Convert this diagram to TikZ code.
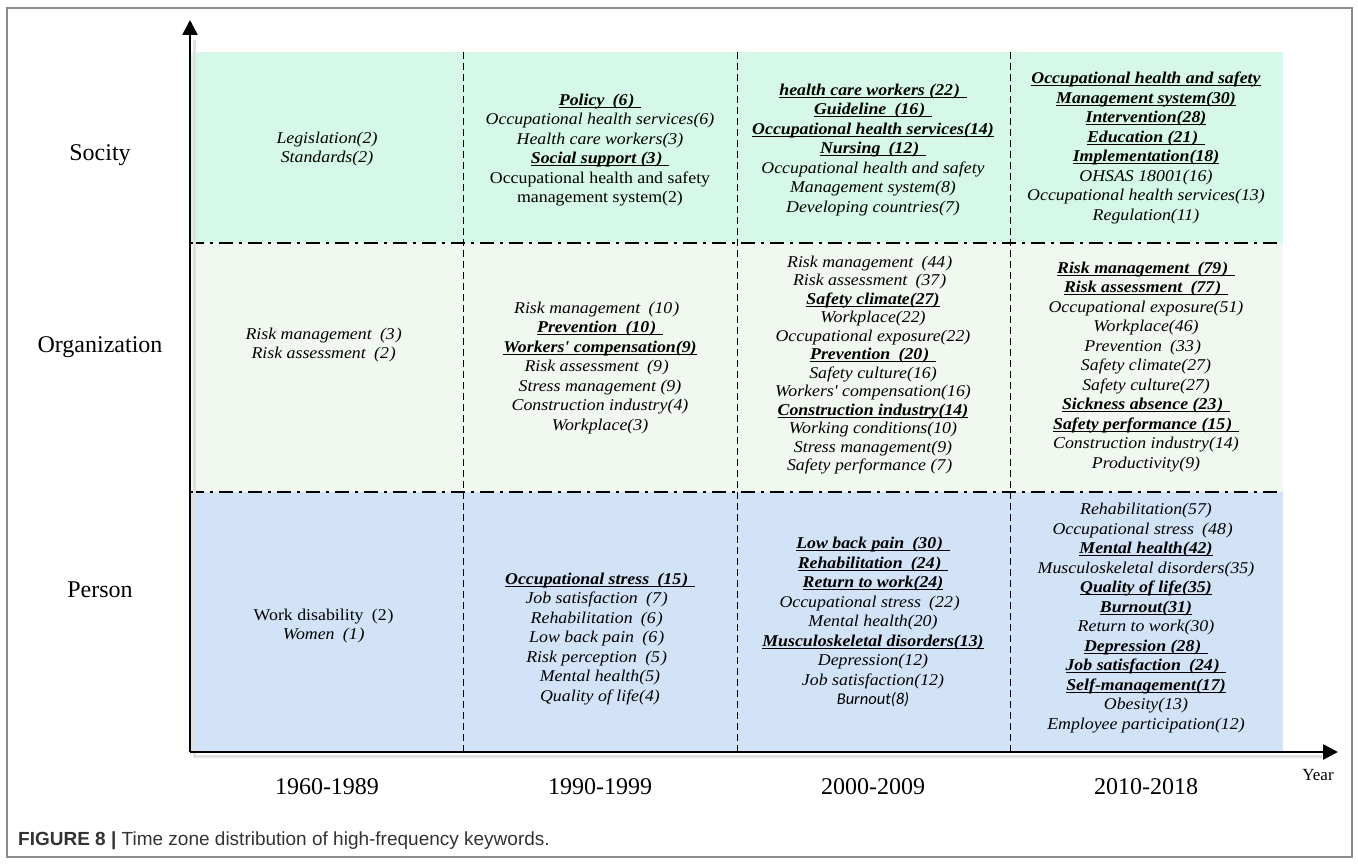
\documentclass[tikz,border=0pt]{standalone}
\usepackage{fontspec}
\setmainfont{Liberation Serif}
\newfontfamily\kwfont{Liberation Serif}[FakeStretch=1.08]
\newfontfamily\capfont{Liberation Sans}
\newfontfamily\carl{Carlito}
\usetikzlibrary{arrows.meta}
\definecolor{soc}{HTML}{D5F8E8}
\definecolor{org}{HTML}{F0F8F0}
\definecolor{per}{HTML}{D3E3F7}
\newcommand{\lp}{\hspace{0.5em}(}
\newcommand{\rp}{\kern1pt)\hspace{0.4em}\kern0pt}
\newsavebox{\ulbox}
\newcommand{\bu}[1]{\sbox{\ulbox}{\textbf{#1}}\rlap{\rule[-2.4pt]{\wd\ulbox}{0.9pt}}\usebox{\ulbox}}
\begin{document}
\begin{tikzpicture}[x=1pt,y=-1pt,
  kw/.style={align=center,inner sep=0pt,font=\kwfont\fontsize{16.5}{19.5}\selectfont\itshape},
  rowlab/.style={inner sep=0pt,font=\fontsize{24}{28}\selectfont},
  yearlab/.style={inner sep=0pt,font=\fontsize{24}{28}\selectfont},
  coldiv/.style={line width=1pt,dash pattern=on 7pt off 4pt},
  rowsep/.style={line width=2.5pt,dash pattern=on 14pt off 6pt on 3pt off 6pt},
  axis/.style={line width=2.6pt,-{Triangle[width=15pt,length=15pt]}},
  shadow/.style={line width=3pt,black!12}]
\useasboundingbox (0,0) rectangle (1358,864);
\draw[black!45,line width=1.2pt] (7,8) rectangle (1352,857);
% bands
\fill[soc] (190,52) rectangle (1283,243);
\fill[org] (190,243) rectangle (1283,492);
\fill[per] (190,492) rectangle (1283,752);
% dividers
\foreach \x in {463,737,1010} \draw[coldiv] (\x,52) -- (\x,752);
\draw[rowsep] (190,243) -- (1283,243);
\draw[rowsep] (190,492) -- (1283,492);
% axes
\coordinate (o) at (190,752);
\coordinate (ytip) at (190,20);
\coordinate (xtip) at (1338,752);
\draw[shadow] (193,756) -- (1322,756);
\draw[shadow] (194,40) -- (194,756);
\draw[axis] (o) -- (ytip);
\draw[axis] (o) -- (xtip);
% row labels
\node[rowlab] (lsoc) at (100,155) {Socity};
\node[rowlab] (lorg) at (100,347) {Organization};
\node[rowlab] (lper) at (100,590) {Person};
% year labels
\node[yearlab] (y1) at (327,787) {1960-1989};
\node[yearlab] (y2) at (600,787) {1990-1999};
\node[yearlab] (y3) at (873,787) {2000-2009};
\node[yearlab] (y4) at (1146,787) {2010-2018};
\node[inner sep=0pt,font=\fontsize{17}{20}\selectfont] (yr) at (1318,775) {Year};
% Society
\node[kw] (s1) at (327,149) {Legislation(2)\\Standards(2)};
\node[kw] (s2) at (600,150) {\bu{Policy\lp6\rp}\\Occupational health services(6)\\Health care workers(3)\\\bu{Social support (3\rp}\\\upshape Occupational health and safety\\\upshape management system(2)};
\node[kw] (s3) at (873,150) {\bu{health care workers (22\rp}\\\bu{Guideline\lp16\rp}\\\bu{Occupational health services(14)}\\\bu{Nursing\lp12\rp}\\Occupational health and safety\\Management system(8)\\Developing countries(7)};
\node[kw] (s4) at (1146,148) {\bu{Occupational health and safety}\\\bu{Management system(30)}\\\bu{Intervention(28)}\\\bu{Education (21\rp}\\\bu{Implementation(18)}\\OHSAS 18001(16)\\Occupational health services(13)\\Regulation(11)};
% Organization
\node[kw] (o1) at (327,345) {Risk management\lp3\rp\\Risk assessment\lp2\rp};
\node[kw] (o2) at (600,368) {Risk management\lp10\rp\\\bu{Prevention\lp10\rp}\\\bu{Workers' compensation(9)}\\Risk assessment\lp9\rp\\Stress management (9)\\Construction industry(4)\\Workplace(3)};
\node[kw,font=\kwfont\fontsize{16.5}{18.5}\selectfont\itshape] (o3) at (873,365) {Risk management\lp44\rp\\Risk assessment\lp37\rp\\\bu{Safety climate(27)}\\Workplace(22)\\Occupational exposure(22)\\\bu{Prevention\lp20\rp}\\Safety culture(16)\\Workers' compensation(16)\\\bu{Construction industry(14)}\\Working conditions(10)\\Stress management(9)\\Safety performance (7\rp};
\node[kw] (o4) at (1146,367) {\bu{Risk management\lp79\rp}\\\bu{Risk assessment\lp77\rp}\\Occupational exposure(51)\\Workplace(46)\\Prevention\lp33\rp\\Safety climate(27)\\Safety culture(27)\\\bu{Sickness absence (23\rp}\\\bu{Safety performance (15\rp}\\Construction industry(14)\\Productivity(9)};
% Person
\node[kw] (p1) at (327,626) {\upshape Work disability\lp2\rp\\Women\lp1\rp};
\node[kw] (p2) at (600,639) {\bu{Occupational stress\lp15\rp}\\Job satisfaction\lp7\rp\\Rehabilitation\lp6\rp\\Low back pain\lp6\rp\\Risk perception\lp5\rp\\Mental health(5)\\Quality of life(4)};
\node[kw] (p3) at (873,622) {\bu{Low back pain\lp30\rp}\\\bu{Rehabilitation\lp24\rp}\\\bu{Return to work(24)}\\Occupational stress\lp22\rp\\Mental health(20)\\\bu{Musculoskeletal disorders(13)}\\Depression(12)\\Job satisfaction(12)\\\carl Burnout(8)};
\node[kw] (p4) at (1146,618) {Rehabilitation(57)\\Occupational stress\lp48\rp\\\bu{Mental health(42)}\\Musculoskeletal disorders(35)\\\bu{Quality of life(35)}\\\bu{Burnout(31)}\\Return to work(30)\\\bu{Depression (28\rp}\\\bu{Job satisfaction\lp24\rp}\\\bu{Self-management(17)}\\Obesity(13)\\Employee participation(12)};
% caption
\node[anchor=base west,inner sep=0pt,font=\capfont\fontsize{19}{22}\selectfont,text=black!80] (cap) at (18,845) {\textbf{FIGURE 8 |} Time zone distribution of high-frequency keywords.};
\end{tikzpicture}
\end{document}
